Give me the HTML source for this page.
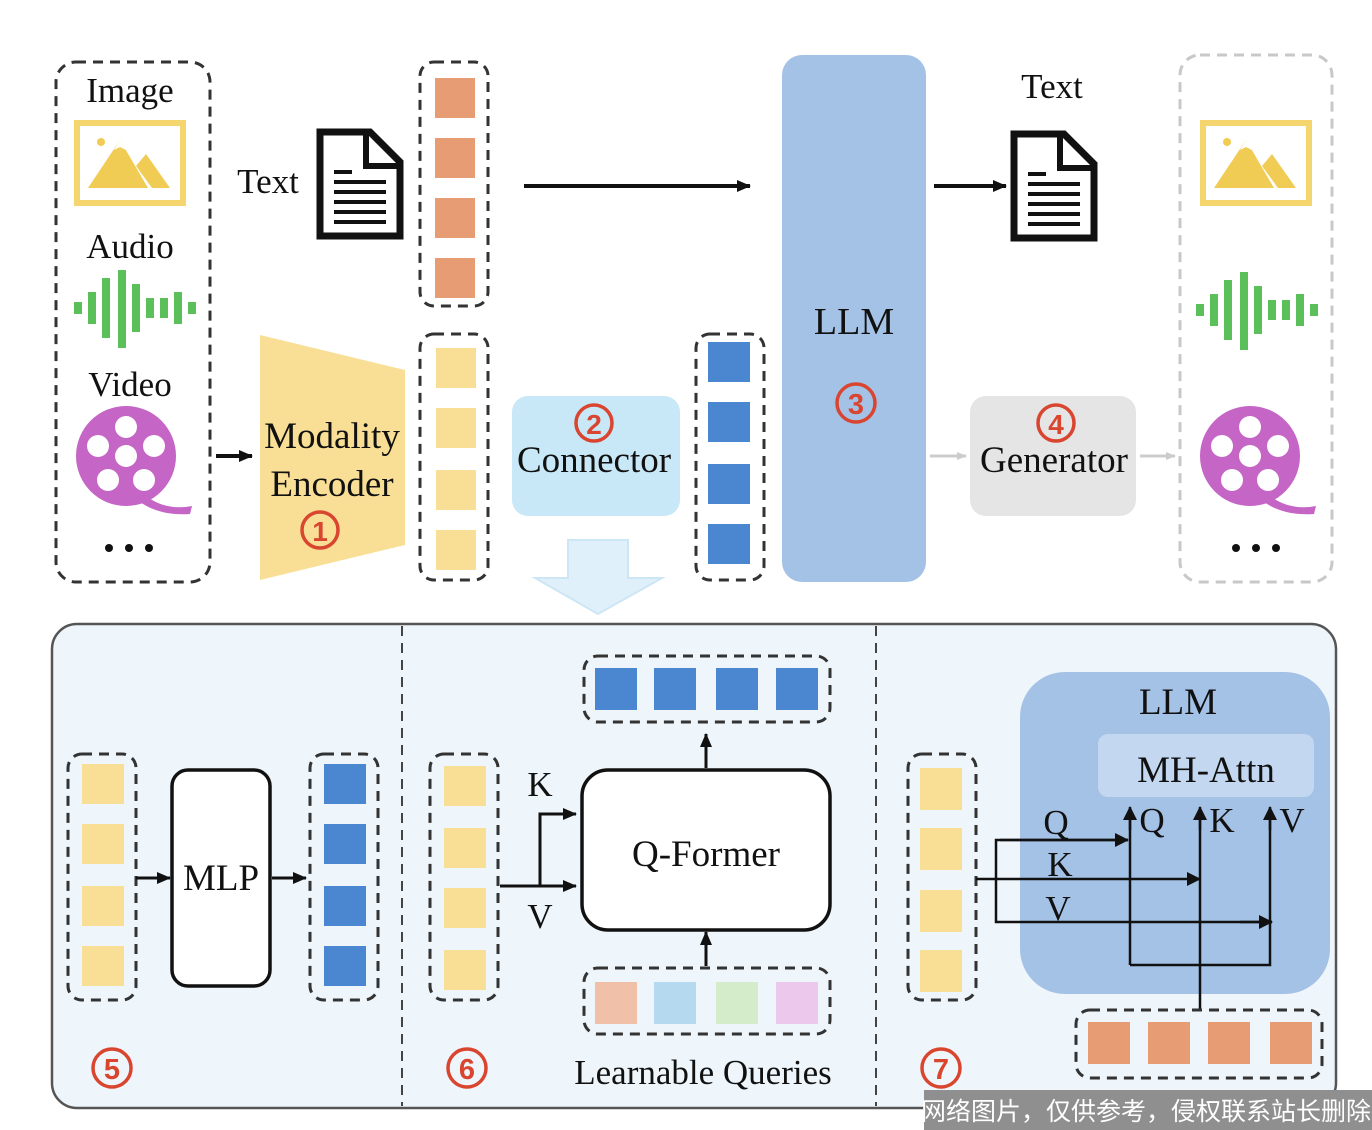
<!DOCTYPE html>
<html><head><meta charset="utf-8"><style>
html,body{margin:0;padding:0;background:#fff;}
svg{display:block;}
text{font-family:"Liberation Serif",serif;fill:#111;}
.n{fill:#d9452f;font-family:"Liberation Sans",sans-serif;font-weight:bold;}
</style></head><body>
<svg width="1372" height="1130" viewBox="0 0 1372 1130" xmlns="http://www.w3.org/2000/svg">
<defs>
<marker id="ah" markerWidth="14" markerHeight="14" refX="13" refY="7" orient="auto" markerUnits="userSpaceOnUse"><path d="M0,1 L14,7 L0,13 z" fill="#111"/></marker>
<marker id="ah2" markerWidth="14" markerHeight="14" refX="13" refY="7" orient="auto" markerUnits="userSpaceOnUse"><path d="M0,0 L14,7 L0,14 z" fill="#111"/></marker>
<marker id="al" markerWidth="10" markerHeight="10" refX="9" refY="5" orient="auto" markerUnits="userSpaceOnUse"><path d="M0,1 L10,5 L0,9 z" fill="#ccc"/></marker>
<g id="doc"><path d="M4,4 H54 L84,34 V108 H4 Z" fill="#fff" stroke="#111" stroke-width="7"/><path d="M50,4 V38 H84" fill="none" stroke="#111" stroke-width="6"/><g stroke="#111" stroke-width="4"><line x1="18" y1="44" x2="36" y2="44"/><line x1="18" y1="54" x2="70" y2="54"/><line x1="18" y1="64" x2="70" y2="64"/><line x1="18" y1="74" x2="70" y2="74"/><line x1="18" y1="84" x2="70" y2="84"/><line x1="18" y1="94" x2="70" y2="94"/></g></g>
<g id="img"><rect x="3" y="3" width="106" height="80" fill="#fff" stroke="#f5d66e" stroke-width="6"/><circle cx="27" cy="22" r="4" fill="#f0cc55"/><path d="M14,68 L46,20 L74,68 Z" fill="#f0cc55"/><path d="M62,46 L72,34 L96,68 L78,68 Z" fill="#f0cc55"/><path d="M40,30 L46,20 L52,30 L46,27 Z" fill="#fff"/></g>
<g id="aud" fill="#5cc05a"><rect x="0" y="32" width="8" height="12"/><rect x="14" y="22" width="8" height="32"/><rect x="28" y="8" width="8" height="60"/><rect x="44" y="0" width="8" height="78"/><rect x="58" y="14" width="8" height="48"/><rect x="72" y="28" width="8" height="20"/><rect x="86" y="28" width="8" height="20"/><rect x="100" y="22" width="8" height="32"/><rect x="114" y="32" width="8" height="12"/></g>
<g id="reel"><circle cx="0" cy="0" r="50" fill="#c565c6"/><path d="M20,40 Q40,55 66,50 L64,58 Q34,60 14,46 Z" fill="#c565c6"/><g fill="#fff"><circle cx="0" cy="0" r="11"/><circle cx="0" cy="-29" r="11"/><circle cx="-28" cy="-10" r="11"/><circle cx="28" cy="-10" r="11"/><circle cx="-18" cy="24" r="11"/><circle cx="18" cy="24" r="11"/></g></g>
</defs>

<rect x="56" y="62" width="154" height="520" rx="20" fill="none" stroke="#333" stroke-width="3" stroke-dasharray="10,7"/>
<text x="130" y="102" font-size="35" text-anchor="middle">Image</text>
<use href="#img" x="74" y="120"/>
<text x="130" y="258" font-size="35" text-anchor="middle">Audio</text>
<use href="#aud" x="74" y="270"/>
<text x="130" y="396" font-size="35" text-anchor="middle">Video</text>
<use href="#reel" x="126" y="456"/>
<g fill="#111"><circle cx="109" cy="548" r="4"/><circle cx="129" cy="548" r="4"/><circle cx="149" cy="548" r="4"/></g>

<text x="268" y="193" font-size="35" text-anchor="middle">Text</text>
<use href="#doc" x="316" y="128"/>

<rect x="420" y="62" width="68" height="244" rx="14" fill="none" stroke="#333" stroke-width="3" stroke-dasharray="10,7"/>
<g fill="#e89c74"><rect x="435" y="78" width="40" height="40"/><rect x="435" y="138" width="40" height="40"/><rect x="435" y="198" width="40" height="40"/><rect x="435" y="258" width="40" height="40"/></g>
<rect x="420" y="334" width="68" height="246" rx="14" fill="none" stroke="#333" stroke-width="3" stroke-dasharray="10,7"/>
<g fill="#f9df95"><rect x="436" y="348" width="40" height="40"/><rect x="436" y="408" width="40" height="40"/><rect x="436" y="470" width="40" height="40"/><rect x="436" y="530" width="40" height="40"/></g>

<path d="M260,335 L405,370 L405,545 L260,580 Z" fill="#f9df95"/>
<text x="332" y="448" font-size="37" text-anchor="middle">Modality</text>
<text x="332" y="496" font-size="37" text-anchor="middle">Encoder</text>
<circle cx="320" cy="530" r="18" fill="none" stroke="#d9452f" stroke-width="3.5"/><text x="320" y="541" font-size="28" text-anchor="middle" class="n">1</text>
<line x1="216" y1="456" x2="252" y2="456" stroke="#111" stroke-width="4" marker-end="url(#ah)"/>

<rect x="512" y="396" width="168" height="120" rx="16" fill="#c8e8f7"/>
<circle cx="594" cy="423" r="18" fill="none" stroke="#d9452f" stroke-width="3.5"/><text x="594" y="434" font-size="28" text-anchor="middle" class="n">2</text>
<text x="594" y="472" font-size="37" text-anchor="middle">Connector</text>
<path d="M568,540 H628 V578 H662 L598,614 L535,578 H568 Z" fill="#dff0fa" stroke="#cde6f5" stroke-width="2"/>

<rect x="696" y="334" width="68" height="246" rx="14" fill="none" stroke="#333" stroke-width="3" stroke-dasharray="10,7"/>
<g fill="#4a87d0"><rect x="708" y="342" width="42" height="40"/><rect x="708" y="402" width="42" height="40"/><rect x="708" y="464" width="42" height="40"/><rect x="708" y="524" width="42" height="40"/></g>

<line x1="524" y1="186" x2="750" y2="186" stroke="#111" stroke-width="4" marker-end="url(#ah)"/>
<rect x="782" y="55" width="144" height="527" rx="20" fill="#a4c2e6"/>
<text x="854" y="334" font-size="38" text-anchor="middle">LLM</text>
<circle cx="856" cy="403" r="19" fill="none" stroke="#d9452f" stroke-width="3.5"/><text x="856" y="414" font-size="29" text-anchor="middle" class="n">3</text>

<line x1="934" y1="186" x2="1006" y2="186" stroke="#111" stroke-width="4" marker-end="url(#ah)"/>
<text x="1052" y="98" font-size="35" text-anchor="middle">Text</text>
<use href="#doc" x="1010" y="130"/>

<rect x="970" y="396" width="166" height="120" rx="16" fill="#e5e5e5"/>
<circle cx="1056" cy="423" r="18" fill="none" stroke="#d9452f" stroke-width="3.5"/><text x="1056" y="434" font-size="28" text-anchor="middle" class="n">4</text>
<text x="1054" y="472" font-size="37" text-anchor="middle">Generator</text>
<line x1="930" y1="456" x2="966" y2="456" stroke="#ccc" stroke-width="3" marker-end="url(#al)"/>
<line x1="1140" y1="456" x2="1175" y2="456" stroke="#ccc" stroke-width="3" marker-end="url(#al)"/>

<rect x="1180" y="55" width="152" height="527" rx="20" fill="none" stroke="#c8c8c8" stroke-width="3" stroke-dasharray="10,7"/>
<use href="#img" x="1200" y="120"/>
<use href="#aud" x="1196" y="272"/>
<use href="#reel" x="1250" y="456"/>
<g fill="#111"><circle cx="1236" cy="548" r="4"/><circle cx="1256" cy="548" r="4"/><circle cx="1276" cy="548" r="4"/></g>

<rect x="52" y="624" width="1284" height="484" rx="25" fill="#eef6fb" stroke="#555" stroke-width="2.5"/>
<line x1="402" y1="626" x2="402" y2="1106" stroke="#444" stroke-width="2" stroke-dasharray="10,7"/>
<line x1="876" y1="626" x2="876" y2="1106" stroke="#444" stroke-width="2" stroke-dasharray="10,7"/>

<rect x="68" y="754" width="68" height="246" rx="14" fill="none" stroke="#333" stroke-width="3" stroke-dasharray="10,7"/>
<g fill="#f9df95"><rect x="82" y="764" width="42" height="40"/><rect x="82" y="824" width="42" height="40"/><rect x="82" y="886" width="42" height="40"/><rect x="82" y="946" width="42" height="40"/></g>
<rect x="172" y="770" width="98" height="216" rx="16" fill="#fff" stroke="#111" stroke-width="3.5"/>
<text x="221" y="890" font-size="37" text-anchor="middle">MLP</text>
<line x1="136" y1="878" x2="170" y2="878" stroke="#111" stroke-width="3" marker-end="url(#ah)"/>
<line x1="272" y1="878" x2="306" y2="878" stroke="#111" stroke-width="3" marker-end="url(#ah)"/>
<rect x="310" y="754" width="68" height="246" rx="14" fill="none" stroke="#333" stroke-width="3" stroke-dasharray="10,7"/>
<g fill="#4a87d0"><rect x="324" y="764" width="42" height="40"/><rect x="324" y="824" width="42" height="40"/><rect x="324" y="886" width="42" height="40"/><rect x="324" y="946" width="42" height="40"/></g>
<circle cx="112" cy="1068" r="19" fill="none" stroke="#d9452f" stroke-width="3.5"/><text x="112" y="1079" font-size="29" text-anchor="middle" class="n">5</text>

<rect x="430" y="754" width="68" height="246" rx="14" fill="none" stroke="#333" stroke-width="3" stroke-dasharray="10,7"/>
<g fill="#f9df95"><rect x="444" y="766" width="42" height="40"/><rect x="444" y="828" width="42" height="40"/><rect x="444" y="888" width="42" height="40"/><rect x="444" y="950" width="42" height="40"/></g>
<rect x="582" y="770" width="248" height="160" rx="26" fill="#fff" stroke="#111" stroke-width="3.5"/>
<text x="706" y="866" font-size="37" text-anchor="middle">Q-Former</text>
<rect x="584" y="656" width="246" height="66" rx="14" fill="none" stroke="#333" stroke-width="3" stroke-dasharray="10,7"/>
<g fill="#4a87d0"><rect x="595" y="668" width="42" height="42"/><rect x="654" y="668" width="42" height="42"/><rect x="716" y="668" width="42" height="42"/><rect x="776" y="668" width="42" height="42"/></g>
<line x1="706" y1="768" x2="706" y2="734" stroke="#111" stroke-width="3" marker-end="url(#ah)"/>
<rect x="584" y="968" width="246" height="66" rx="14" fill="none" stroke="#333" stroke-width="3" stroke-dasharray="10,7"/>
<rect x="595" y="982" width="42" height="42" fill="#f0c0a8"/><rect x="654" y="982" width="42" height="42" fill="#b5daf0"/><rect x="716" y="982" width="42" height="42" fill="#d4ecc9"/><rect x="776" y="982" width="42" height="42" fill="#ecc8ec"/>
<line x1="706" y1="966" x2="706" y2="932" stroke="#111" stroke-width="3" marker-end="url(#ah)"/>
<line x1="500" y1="886" x2="576" y2="886" stroke="#111" stroke-width="3" marker-end="url(#ah)"/>
<polyline points="540,886 540,814 576,814" fill="none" stroke="#111" stroke-width="3" marker-end="url(#ah)"/>
<text x="540" y="796" font-size="35" text-anchor="middle">K</text>
<text x="540" y="928" font-size="35" text-anchor="middle">V</text>
<text x="703" y="1084" font-size="35" text-anchor="middle">Learnable Queries</text>
<circle cx="467" cy="1068" r="19" fill="none" stroke="#d9452f" stroke-width="3.5"/><text x="467" y="1079" font-size="29" text-anchor="middle" class="n">6</text>

<rect x="1020" y="672" width="310" height="322" rx="45" fill="#a4c2e6"/>
<text x="1178" y="714" font-size="37" text-anchor="middle">LLM</text>
<rect x="1098" y="734" width="216" height="63" rx="10" fill="#c3d8f0"/>
<text x="1206" y="782" font-size="37" text-anchor="middle">MH-Attn</text>
<rect x="908" y="754" width="68" height="246" rx="14" fill="none" stroke="#333" stroke-width="3" stroke-dasharray="10,7"/>
<g fill="#f9df95"><rect x="920" y="768" width="42" height="42"/><rect x="920" y="828" width="42" height="42"/><rect x="920" y="890" width="42" height="42"/><rect x="920" y="950" width="42" height="42"/></g>
<g stroke="#111" stroke-width="2.5" fill="none">
<line x1="976" y1="879" x2="1200" y2="879" marker-end="url(#ah2)"/>
<polyline points="1128,840 996,840 996,922 1272,922" />
<line x1="1000" y1="840" x2="1128" y2="840" marker-end="url(#ah2)"/>
<line x1="1240" y1="922" x2="1272" y2="922" marker-end="url(#ah2)"/>
<polyline points="1130,965 1130,810"/>
<polyline points="1130,965 1270,965 1270,810"/>
<line x1="1200" y1="1010" x2="1200" y2="810"/>
<line x1="1130" y1="830" x2="1130" y2="807" marker-end="url(#ah2)"/>
<line x1="1200" y1="830" x2="1200" y2="807" marker-end="url(#ah2)"/>
<line x1="1270" y1="830" x2="1270" y2="807" marker-end="url(#ah2)"/>
</g>
<text x="1056" y="834" font-size="35" text-anchor="middle">Q</text>
<text x="1060" y="876" font-size="35" text-anchor="middle">K</text>
<text x="1058" y="920" font-size="35" text-anchor="middle">V</text>
<text x="1152" y="832" font-size="35" text-anchor="middle">Q</text>
<text x="1222" y="832" font-size="35" text-anchor="middle">K</text>
<text x="1292" y="832" font-size="35" text-anchor="middle">V</text>
<rect x="1076" y="1010" width="246" height="68" rx="14" fill="none" stroke="#333" stroke-width="3" stroke-dasharray="10,7"/>
<g fill="#e89c74"><rect x="1088" y="1022" width="42" height="42"/><rect x="1148" y="1022" width="42" height="42"/><rect x="1208" y="1022" width="42" height="42"/><rect x="1270" y="1022" width="42" height="42"/></g>
<circle cx="941" cy="1068" r="19" fill="none" stroke="#d9452f" stroke-width="3.5"/><text x="941" y="1079" font-size="29" text-anchor="middle" class="n">7</text>

<rect x="924" y="1090" width="448" height="40" fill="#8f8f8f"/>
<text x="1146" y="1120" font-size="25" text-anchor="middle" style="fill:#fff;font-family:'Liberation Sans','Noto Sans CJK SC',sans-serif">网络图片，仅供参考，侵权联系站长删除</text>
</svg>
</body></html>
